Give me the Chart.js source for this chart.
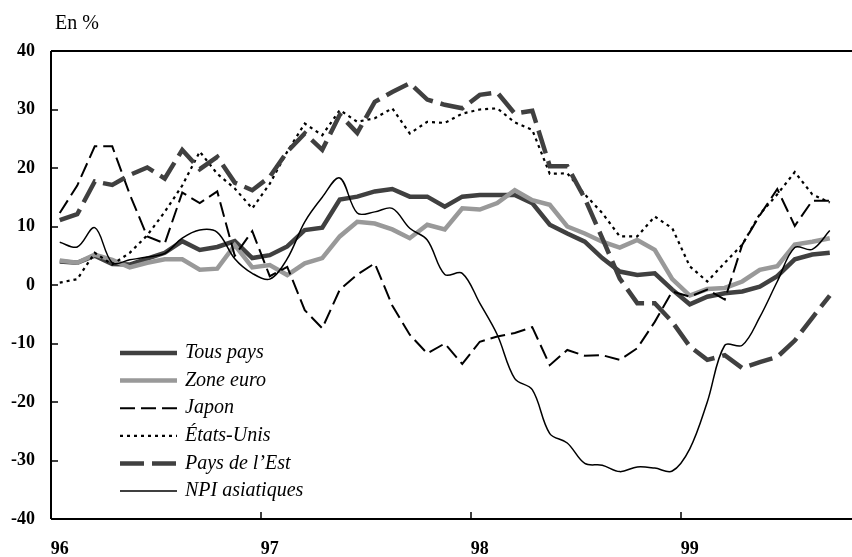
<!DOCTYPE html>
<html><head><meta charset="utf-8">
<script src="https://cdn.jsdelivr.net/npm/chart.js@4.4.1/dist/chart.umd.min.js"></script>
<style>html,body{margin:0;padding:0;background:#fff;overflow:hidden}#wrap{position:relative;width:852px;height:557px}</style>
</head><body><div id="wrap"><canvas id="c" width="852" height="557"></canvas></div>
<script>
const categories = ["1996-01","1996-02","1996-03","1996-04","1996-05","1996-06","1996-07","1996-08","1996-09","1996-10","1996-11","1996-12",
"1997-01","1997-02","1997-03","1997-04","1997-05","1997-06","1997-07","1997-08","1997-09","1997-10","1997-11","1997-12",
"1998-01","1998-02","1998-03","1998-04","1998-05","1998-06","1998-07","1998-08","1998-09","1998-10","1998-11","1998-12",
"1999-01","1999-02","1999-03","1999-04","1999-05","1999-06","1999-07","1999-08","1999-09"];
const yearLabels = ["96","97","98","99"];
const yTicks = [-40,-30,-20,-10,0,10,20,30,40];

const tousPays = [4.0,3.8,5.0,3.6,3.5,4.5,5.5,7.5,6.0,6.5,7.5,4.6, 5.1,6.6,9.4,9.8,14.6,15.1,16.0,16.4,15.1,15.1,13.4,15.1, 15.4,15.4,15.4,14.0,10.3,8.8,7.4,4.6,2.3,1.7,2.0,-0.8, -3.3,-2.0,-1.4,-1.1,-0.3,1.5,4.4,5.2,5.5];
const zoneEuro = [4.2,3.8,5.2,4.3,3.0,3.8,4.4,4.4,2.6,2.8,6.8,3.0, 3.4,1.7,3.7,4.6,8.3,10.8,10.5,9.5,8.0,10.3,9.5,13.1, 12.9,14.0,16.2,14.5,13.7,10.0,8.8,7.4,6.4,7.7,6.0,1.0, -1.8,-0.7,-0.5,0.6,2.6,3.2,6.9,7.4,8.0];
const japon = [12.3,17.0,23.7,23.7,15.5,8.3,7.1,15.8,14.0,16.0,5.0,9.2, 1.5,3.1,-4.3,-7.4,-0.8,1.8,3.7,-3.5,-8.5,-11.7,-10.0,-13.5, -9.7,-8.8,-8.2,-7.2,-13.7,-11.1,-12.1,-12.0,-12.8,-10.8,-6.3,-1.1, -2.0,-0.8,-2.5,6.9,11.9,16.4,10.1,14.4,14.4];
const etatsUnis = [0.4,1.0,5.5,3.5,5.5,8.5,12.5,17.0,22.8,19.0,16.5,13.1, 17.3,22.8,27.6,25.6,29.9,27.9,28.5,30.2,25.9,27.9,27.7,29.3, 30.0,30.2,27.8,26.5,19.0,19.1,15.5,12.3,8.3,8.3,11.7,9.7, 3.2,0.6,3.8,6.9,12.1,15.5,19.3,15.5,14.1];
const paysEst = [11.1,12.1,17.7,17.1,18.8,20.1,18.2,23.1,19.8,21.9,17.5,16.2, 18.5,22.8,25.9,23.1,29.1,26.0,31.3,33.0,34.5,31.7,30.8,30.2, 32.5,32.9,29.3,29.8,20.3,20.3,14.8,8.0,1.1,-3.1,-3.1,-6.3, -10.5,-12.8,-12.0,-14.2,-13.2,-12.3,-9.5,-5.6,-1.8];
const npiAsie = [7.3,6.5,9.8,3.8,4.3,4.8,5.4,8.0,9.4,9.0,4.5,2.0, 1.0,4.5,10.8,15.0,18.3,12.3,12.5,13.1,9.7,7.7,1.8,2.0, -3.1,-8.5,-16.0,-17.9,-25.4,-27.0,-30.5,-30.8,-31.9,-31.1,-31.3,-31.8, -28.0,-20.0,-10.3,-10.3,-5.5,0.6,6.4,6.1,9.3];

const seriesNames = ["Tous pays","Zone euro","Japon","\u00c9tats-Unis","Pays de l\u2019Est","NPI asiatiques"];
const seriesValues = [tousPays, zoneEuro, japon, etatsUnis, paysEst, npiAsie];
const styles = [
  {color:'#404040', width:4.5, dash:[], tension:0},
  {color:'#999999', width:4.5, dash:[], tension:0},
  {color:'#000000', width:2, dash:[15,6], tension:0},
  {color:'#000000', width:2.2, dash:[3,4], tension:0},
  {color:'#404040', width:4.5, dash:[24,8], tension:0},
  {color:'#000000', width:1.5, dash:[], tension:0.35}
];
const yearIdx = categories.map((c,i)=>c.endsWith('-01')?i:-1).filter(i=>i>=0);

const datasets = seriesValues.map((vals,si)=>({
  label: seriesNames[si],
  data: vals.map((v,i)=>({x:i,y:v})),
  borderColor: styles[si].color,
  borderWidth: styles[si].width,
  borderDash: styles[si].dash,
  tension: styles[si].tension,
  pointRadius: 0,
  fill: false,
  order: 5 - si,
  borderCapStyle: 'butt',
  borderJoinStyle: 'miter'
}));

const SERIF = '"Liberation Serif", "DejaVu Serif", serif';

const decor = {
  id: 'decor',
  afterDraw(chart) {
    const ctx = chart.ctx, a = chart.chartArea;
    const xs = chart.scales.x, ys = chart.scales.y;
    ctx.save();
    ctx.strokeStyle = '#000';
    ctx.lineWidth = 2;
    ctx.setLineDash([]);
    ctx.beginPath();
    ctx.moveTo(a.left, a.top); ctx.lineTo(a.right, a.top);
    ctx.moveTo(a.left, a.top); ctx.lineTo(a.left, a.bottom);
    ctx.moveTo(a.left, a.bottom); ctx.lineTo(a.right, a.bottom);
    ctx.stroke();
    ctx.lineWidth = 1.5;
    ctx.beginPath();
    yTicks.forEach(v => { const y = Math.round(ys.getPixelForValue(v)); ctx.moveTo(a.left, y); ctx.lineTo(a.left + 7, y); });
    yearIdx.forEach(i => { const x = Math.round(xs.getPixelForValue(i - 0.5)); ctx.moveTo(x, a.bottom); ctx.lineTo(x, a.bottom - 7); });
    ctx.stroke();
    ctx.fillStyle = '#000';
    ctx.font = '20px ' + SERIF;
    ctx.textBaseline = 'alphabetic';
    ctx.textAlign = 'left';
    ctx.fillText('En %', 55, 29);
    const lx0 = 120, lx1 = 177, tx = 185, ly0 = 353, dy = 27.6;
    chart.data.datasets.forEach((ds, i) => {
      const y = ly0 + i * dy;
      ctx.strokeStyle = ds.borderColor;
      ctx.lineWidth = ds.borderWidth;
      ctx.setLineDash(ds.borderDash || []);
      ctx.lineCap = 'butt';
      ctx.beginPath(); ctx.moveTo(lx0, y); ctx.lineTo(lx1, y); ctx.stroke();
      ctx.setLineDash([]);
      ctx.fillStyle = '#000';
      ctx.font = 'italic 20px ' + SERIF;
      ctx.textBaseline = 'middle';
      ctx.fillText(ds.label, tx, y);
    });
    ctx.restore();
  }
};

new Chart(document.getElementById('c'), {
  type: 'line',
  data: { datasets },
  options: {
    responsive: false,
    animation: false,
    devicePixelRatio: 1,
    layout: { padding: { top: 51, left: 0, right: 0, bottom: 0 } },
    plugins: { legend: { display: false }, tooltip: { enabled: false } },
    scales: {
      x: {
        type: 'linear',
        min: -0.5,
        max: 45.27,
        afterBuildTicks: s => { s.ticks = yearIdx.map(v => ({ value: v })); },
        afterFit: s => { s.height = 38; },
        grid: { display: false, drawTicks: false },
        border: { display: false },
        ticks: {
          autoSkip: false, maxRotation: 0, padding: 20, color: '#000',
          font: { family: SERIF, size: 18, weight: 'bold' },
          callback: v => yearLabels[yearIdx.indexOf(v)]
        }
      },
      y: {
        min: -40, max: 40,
        afterBuildTicks: s => { s.ticks = yTicks.map(v => ({ value: v })); },
        afterFit: s => { s.width = 51; },
        grid: { display: false, drawTicks: false },
        border: { display: false },
        ticks: {
          padding: 16, color: '#000',
          font: { family: SERIF, size: 18, weight: 'bold' }
        }
      }
    }
  },
  plugins: [decor]
});
</script></body></html>
